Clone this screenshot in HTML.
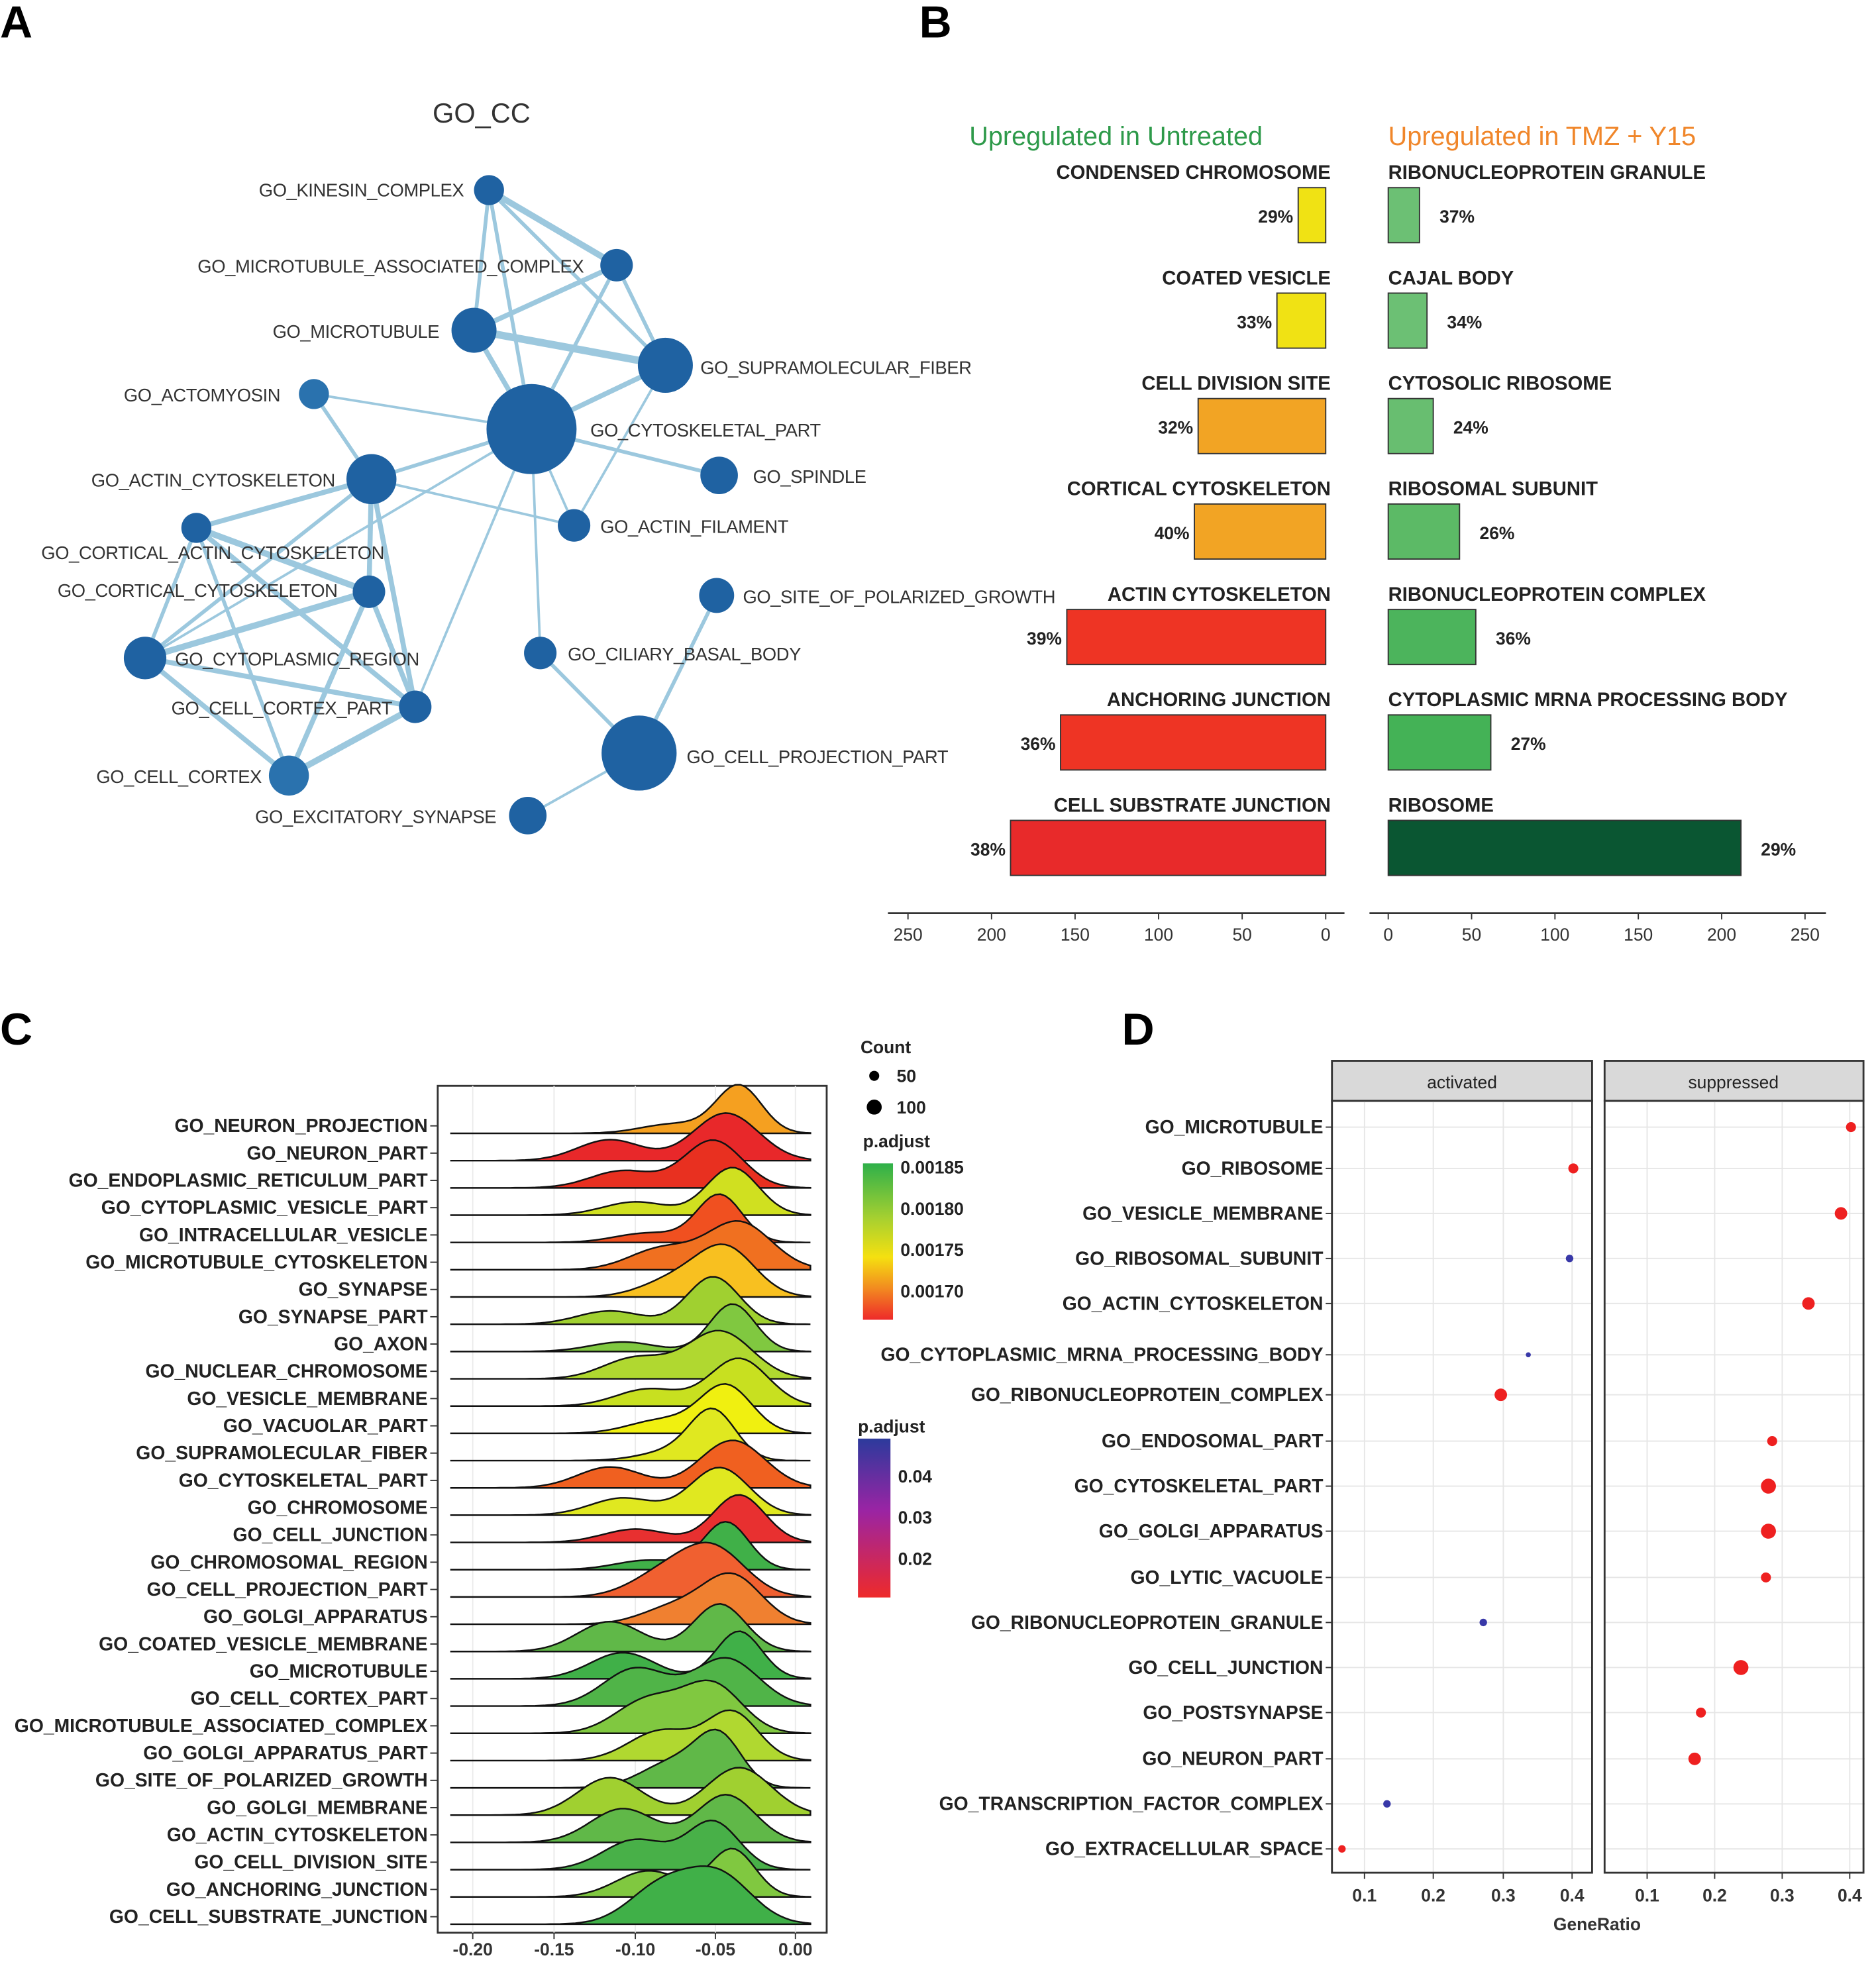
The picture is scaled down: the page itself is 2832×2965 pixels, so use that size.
<!DOCTYPE html>
<html><head><meta charset="utf-8">
<style>
html,body{margin:0;padding:0;background:#fff;}
svg{display:block;}
text{font-family:"Liberation Sans",sans-serif;}
</style></head>
<body>
<svg id="s" xmlns="http://www.w3.org/2000/svg" width="2832" height="2965" viewBox="0 0 1500 1570" preserveAspectRatio="none"></svg>
<script>
const s=document.getElementById('s');let h='';
function T(x,y,t,o={}){h+=`<text x="${x}" y="${y}" font-size="${o.fs||15}" fill="${o.c||'#222'}" text-anchor="${o.a||'start'}" font-weight="${o.w||'normal'}"${o.ls?` letter-spacing="${o.ls}"`:''}>${t}</text>`;}
T(0,30,'A',{fs:36,w:'bold',c:'#000'});T(735,30,'B',{fs:36,w:'bold',c:'#000'});
T(0,835,'C',{fs:36,w:'bold',c:'#000'});T(897,835,'D',{fs:36,w:'bold',c:'#000'});
T(385,98,'GO_CC',{fs:22,a:'middle',c:'#333'});
const N={K:[391,152,12],MA:[493,212,13],M:[379,264,18],S:[532,292,22],AM:[251,315,12],CP:[425,343,36],SP:[575,380,15],AC:[297,383,20],AF:[459,420,13],CA:[157,422,12],CC:[295,473,13],PG:[573,476,14],CR:[116,526,17],CB:[432,522,13],CCP:[332,565,13],PP:[511,602,30],CX:[231,620,16],EX:[422,652,15]};
const E=[['K','MA',5],['K','M',3],['K','S',3],['K','CP',3],['MA','M',4],['MA','S',3],['MA','CP',3],['M','S',6],['M','CP',4],['S','CP',4],['S','AF',2],['AM','CP',2],['AM','AC',3],['CP','SP',3],['CP','AC',3],['CP','AF',2],['CP','CB',2],['CP','CR',2],['CP','CCP',2],['AC','AF',2],['AC','CA',4],['AC','CC',4],['AC','CR',3],['AC','CCP',4],['CA','CC',5],['CA','CR',3],['CA','CCP',4],['CA','CX',3],['CC','CR',5],['CC','CCP',4],['CC','CX',4],['CR','CCP',4],['CR','CX',4],['CCP','CX',5],['PG','PP',3],['CB','PP',3],['PP','EX',2],['S','M',3]];
E.forEach(([a,b,w])=>{const p=N[a],q=N[b];h+=`<line x1="${p[0]}" y1="${p[1]}" x2="${q[0]}" y2="${q[1]}" stroke="#9cc8de" stroke-width="${w}"/>`;});
for(const k in N){const p=N[k];h+=`<circle cx="${p[0]}" cy="${p[1]}" r="${p[2]}" fill="${k=='AM'||k=='CX'?'#2a72ae':'#1f62a2'}"/>`;}
[[207,157,'GO_KINESIN_COMPLEX'],[158,218,'GO_MICROTUBULE_ASSOCIATED_COMPLEX'],[218,270,'GO_MICROTUBULE'],[560,299,'GO_SUPRAMOLECULAR_FIBER'],[99,321,'GO_ACTOMYOSIN'],[472,349,'GO_CYTOSKELETAL_PART'],[602,386,'GO_SPINDLE'],[73,389,'GO_ACTIN_CYTOSKELETON'],[480,426,'GO_ACTIN_FILAMENT'],[33,447,'GO_CORTICAL_ACTIN_CYTOSKELETON'],[46,477,'GO_CORTICAL_CYTOSKELETON'],[594,482,'GO_SITE_OF_POLARIZED_GROWTH'],[140,532,'GO_CYTOPLASMIC_REGION'],[454,528,'GO_CILIARY_BASAL_BODY'],[137,571,'GO_CELL_CORTEX_PART'],[549,610,'GO_CELL_PROJECTION_PART'],[77,626,'GO_CELL_CORTEX'],[204,658,'GO_EXCITATORY_SYNAPSE']].forEach(a=>T(a[0],a[1],a[2],{fs:14.5,c:'#333',ls:'-0.2'}));
T(775,116,'Upregulated in Untreated',{fs:21,c:'#2e9a4a'});T(1110,116,'Upregulated in TMZ + Y15',{fs:21,c:'#f0862a'});
const L=[['CONDENSED CHROMOSOME',1038,'#f0e214','29%'],['COATED VESICLE',1021,'#f0e214','33%'],['CELL DIVISION SITE',958,'#f2a424','32%'],['CORTICAL CYTOSKELETON',955,'#f2a424','40%'],['ACTIN CYTOSKELETON',853,'#ee3424','39%'],['ANCHORING JUNCTION',848,'#ee3424','36%'],['CELL SUBSTRATE JUNCTION',808,'#e82a2a','38%']];
const R=[['RIBONUCLEOPROTEIN GRANULE',1135,'#6cc074','37%'],['CAJAL BODY',1141,'#6cc074','34%'],['CYTOSOLIC RIBOSOME',1146,'#68be70','24%'],['RIBOSOMAL SUBUNIT',1167,'#5cba66','26%'],['RIBONUCLEOPROTEIN COMPLEX',1180,'#4cb45c','36%'],['CYTOPLASMIC MRNA PROCESSING BODY',1192,'#44b256','27%'],['RIBOSOME',1392,'#0a5632','29%']];
for(let i=0;i<7;i++){const y=137+i*84.3,by=y+13;
 const l=L[i];T(1064,y+6,l[0],{fs:15.5,w:'bold',a:'end'});
 h+=`<rect x="${l[1]}" y="${by}" width="${1060-l[1]}" height="44" fill="${l[2]}" stroke="#333" stroke-width="1"/>`;
 T(l[1]-4,by+28,l[3],{fs:14,w:'bold',a:'end'});
 const r=R[i];T(1110,y+6,r[0],{fs:15.5,w:'bold'});
 h+=`<rect x="1110" y="${by}" width="${r[1]-1110}" height="44" fill="${r[2]}" stroke="#333" stroke-width="1"/>`;
 T(r[1]+16,by+28,r[3],{fs:14,w:'bold'});}
h+=`<line x1="710" y1="730" x2="1075" y2="730" stroke="#333" stroke-width="1.5"/><line x1="1095" y1="730" x2="1460" y2="730" stroke="#333" stroke-width="1.5"/>`;
[250,200,150,100,50,0].forEach(v=>{const x=1060-v*1.336;h+=`<line x1="${x}" y1="730" x2="${x}" y2="735" stroke="#333"/>`;T(x,752,v,{fs:14,a:'middle',c:'#333'});
 const x2=1110+v*1.333;h+=`<line x1="${x2}" y1="730" x2="${x2}" y2="735" stroke="#333"/>`;T(x2,752,v,{fs:14,a:'middle',c:'#333'});});
h+=`<rect x="350" y="868" width="311" height="677" fill="#fff" stroke="#333" stroke-width="1.5"/>`;
[378,443,508,572,636].forEach(x=>h+=`<line x1="${x}" y1="868" x2="${x}" y2="1545" stroke="#ebebeb"/>`);
const C=[['GO_NEURON_PROJECTION','#f5a020'],['GO_NEURON_PART','#e8282a'],['GO_ENDOPLASMIC_RETICULUM_PART','#e83020'],['GO_CYTOPLASMIC_VESICLE_PART','#d0e020'],['GO_INTRACELLULAR_VESICLE','#f05020'],['GO_MICROTUBULE_CYTOSKELETON','#f07020'],['GO_SYNAPSE','#f8c020'],['GO_SYNAPSE_PART','#a0d030'],['GO_AXON','#80c840'],['GO_NUCLEAR_CHROMOSOME','#b0d830'],['GO_VESICLE_MEMBRANE','#c8e020'],['GO_VACUOLAR_PART','#f0f010'],['GO_SUPRAMOLECULAR_FIBER','#e0e820'],['GO_CYTOSKELETAL_PART','#f06020'],['GO_CHROMOSOME','#e0e820'],['GO_CELL_JUNCTION','#e83030'],['GO_CHROMOSOMAL_REGION','#40b048'],['GO_CELL_PROJECTION_PART','#f06030'],['GO_GOLGI_APPARATUS','#f08030'],['GO_COATED_VESICLE_MEMBRANE','#60b848'],['GO_MICROTUBULE','#40b048'],['GO_CELL_CORTEX_PART','#50b448'],['GO_MICROTUBULE_ASSOCIATED_COMPLEX','#80c840'],['GO_GOLGI_APPARATUS_PART','#b0d830'],['GO_SITE_OF_POLARIZED_GROWTH','#60b848'],['GO_GOLGI_MEMBRANE','#a0d030'],['GO_ACTIN_CYTOSKELETON','#60b848'],['GO_CELL_DIVISION_SITE','#48b048'],['GO_ANCHORING_JUNCTION','#80c840'],['GO_CELL_SUBSTRATE_JUNCTION','#40b048']];
for(let i=0;i<30;i++){const base=900+i*21.8+6;
 const m1=-0.035-((i*7)%5)*0.004, sd1=0.014+((i*3)%4)*0.002, m2=-0.075-((i*5)%6)*0.008, a2=(i>18?0.55:0.2)+((i*11)%4)*0.08, sd2=0.02+((i*3)%3)*0.006;
 let pts=[];for(let x=360;x<=648;x+=4){const v=(x-636)/1290;let d=Math.exp(-((v-m1)**2)/(2*sd1*sd1))+a2*Math.exp(-((v-m2)**2)/(2*sd2*sd2));pts.push([x,base-d*38]);}
 let p='M360,'+base+' '+pts.map(q=>'L'+q[0]+','+q[1].toFixed(1)).join(' ')+' L648,'+base+' Z';
 h+=`<path d="${p}" fill="${C[i][1]}" stroke="#111" stroke-width="1.3"/>`;
 T(342,base-1,C[i][0],{fs:15,w:'bold',a:'end'});
 h+=`<line x1="344" y1="${base-6}" x2="350" y2="${base-6}" stroke="#333"/>`;}
[['-0.20',378],['-0.15',443],['-0.10',508],['-0.05',572],['0.00',636]].forEach(a=>{h+=`<line x1="${a[1]}" y1="1545" x2="${a[1]}" y2="1550" stroke="#333"/>`;T(a[1],1563,a[0],{fs:14,a:'middle',w:'bold',c:'#333'});});
T(688,842,'Count',{fs:14,w:'bold'});h+=`<circle cx="699" cy="860" r="4" fill="#000"/><circle cx="699" cy="885" r="6" fill="#000"/>`;T(717,865,'50',{fs:14,w:'bold'});T(717,890,'100',{fs:14,w:'bold'});
T(690,917,'p.adjust',{fs:14,w:'bold'});
h+=`<defs><linearGradient id="g1" x1="0" y1="0" x2="0" y2="1"><stop offset="0" stop-color="#2eb04a"/><stop offset="0.35" stop-color="#a6d030"/><stop offset="0.6" stop-color="#f5e010"/><stop offset="0.8" stop-color="#f28a20"/><stop offset="1" stop-color="#ee2a2a"/></linearGradient><linearGradient id="g2" x1="0" y1="0" x2="0" y2="1"><stop offset="0" stop-color="#2c3a9c"/><stop offset="0.45" stop-color="#9a24a4"/><stop offset="1" stop-color="#ee2a2a"/></linearGradient></defs>`;
h+=`<rect x="690" y="930" width="24" height="125" fill="url(#g1)"/><rect x="686" y="1150" width="26" height="127" fill="url(#g2)"/>`;
[['0.00185',938],['0.00180',971],['0.00175',1004],['0.00170',1037]].forEach(a=>T(720,a[1],a[0],{fs:14,w:'bold'}));
T(686,1145,'p.adjust',{fs:14,w:'bold'});
[['0.04',1185],['0.03',1218],['0.02',1251]].forEach(a=>T(718,a[1],a[0],{fs:14,w:'bold'}));
h+=`<rect x="1065" y="848" width="208" height="32" fill="#d9d9d9" stroke="#333" stroke-width="1.5"/><rect x="1283" y="848" width="207" height="32" fill="#d9d9d9" stroke="#333" stroke-width="1.5"/>`;
T(1169,870,'activated',{fs:14,a:'middle',c:'#222'});T(1386,870,'suppressed',{fs:14,a:'middle',c:'#222'});
const rows=[901,934,970,1006,1042,1083,1115,1152,1188,1224,1261,1297,1333,1369,1406,1442,1478];
const lx=[1091,1146,1202,1257],rx=[1317,1371,1425,1479];
[[1065,lx],[1283,rx]].forEach(([x0,ts])=>{rows.forEach(y=>h+=`<line x1="${x0}" y1="${y}" x2="${x0+208}" y2="${y}" stroke="#e6e6e6"/>`);ts.forEach(x=>h+=`<line x1="${x}" y1="880" x2="${x}" y2="1497" stroke="#e6e6e6"/>`);
 ts.forEach((x,i)=>{T(x,1520,'0.'+(i+1),{fs:14,a:'middle',w:'bold',c:'#333'});h+=`<line x1="${x}" y1="1497" x2="${x}" y2="1502" stroke="#333"/>`;});
 h+=`<rect x="${x0}" y="880" width="${x0==1065?208:207}" height="617" fill="none" stroke="#333" stroke-width="1.5"/>`;});
const D=[['GO_MICROTUBULE',1480,'r',4],['GO_RIBOSOME',1258,'r',4],['GO_VESICLE_MEMBRANE',1472,'r',5],['GO_RIBOSOMAL_SUBUNIT',1255,'b',3],['GO_ACTIN_CYTOSKELETON',1446,'r',5],['GO_CYTOPLASMIC_MRNA_PROCESSING_BODY',1222,'b',2],['GO_RIBONUCLEOPROTEIN_COMPLEX',1200,'r',5],['GO_ENDOSOMAL_PART',1417,'r',4],['GO_CYTOSKELETAL_PART',1414,'r',6],['GO_GOLGI_APPARATUS',1414,'r',6],['GO_LYTIC_VACUOLE',1412,'r',4],['GO_RIBONUCLEOPROTEIN_GRANULE',1186,'b',3],['GO_CELL_JUNCTION',1392,'r',6],['GO_POSTSYNAPSE',1360,'r',4],['GO_NEURON_PART',1355,'r',5],['GO_TRANSCRIPTION_FACTOR_COMPLEX',1109,'b',3],['GO_EXTRACELLULAR_SPACE',1073,'r',3]];
D.forEach((d,i)=>{const y=rows[i];T(1058,y+5,d[0],{fs:15,w:'bold',a:'end'});h+=`<line x1="1060" y1="${y}" x2="1065" y2="${y}" stroke="#333"/>`;
 h+=`<circle cx="${d[1]}" cy="${y}" r="${d[3]}" fill="${d[2]=='r'?'#ee2020':'#3838a8'}"/>`;});
T(1277,1543,'GeneRatio',{fs:14,a:'middle',w:'bold',c:'#333'});
s.innerHTML=h;
</script>
</body></html>
